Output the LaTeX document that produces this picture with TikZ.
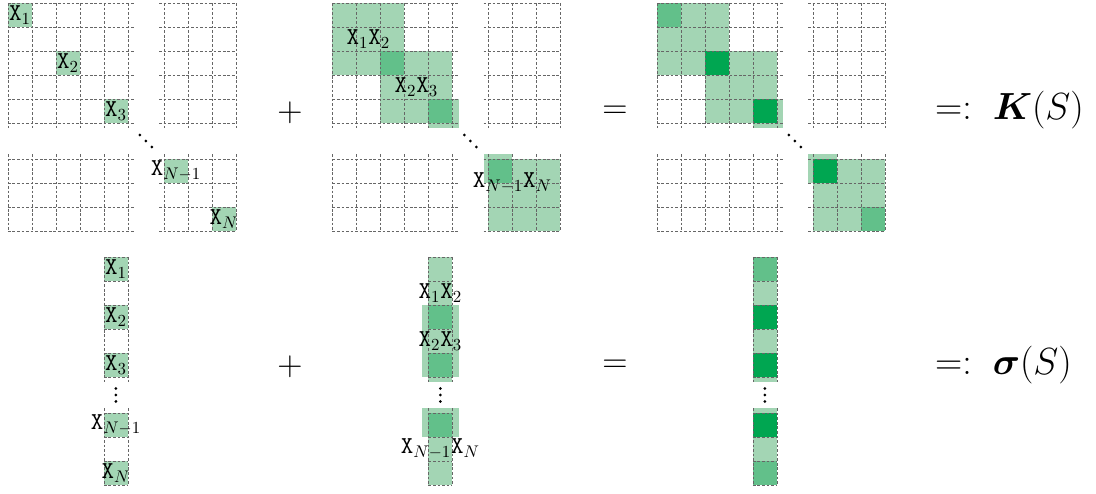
\documentclass[tikz,border=0pt]{standalone}
\usepackage{amsmath,amssymb,bm,graphicx}
\usetikzlibrary{positioning}
\definecolor{lightg}{RGB}{163,213,180}
\definecolor{midg}{RGB}{98,192,138}
\definecolor{darkg}{RGB}{0,166,81}
\tikzset{
  gridln/.style={draw=black!60, dash pattern=on 1.6pt off 1.1pt, line width=0.45pt},
  lite/.style={fill=lightg},
  half/.style={fill=midg},
  full/.style={fill=darkg},
  lab/.style={inner sep=0pt, font=\Large},
  op/.style={inner sep=0pt, font=\huge},
  defn/.style={inner sep=0pt, anchor=west, font=\huge},
  dotr/.style={fill=black},
  matgrid/.pic={
    \foreach \r in {0,...,5} {
      \draw[gridln] (0,-\r) -- (5.27,-\r);
      \draw[gridln] (6.3,-\r) -- (9.5,-\r);
    }
    \foreach \r in {6.5,7.5,8.5,9.5} {
      \draw[gridln] (0,-\r) -- (5.27,-\r);
      \draw[gridln] (6.3,-\r) -- (9.5,-\r);
    }
    \foreach \c in {0,...,5,6.5,7.5,8.5,9.5} {
      \draw[gridln] (\c,0) -- (\c,-5.2);
      \draw[gridln] (\c,-6.3) -- (\c,-9.5);
    }
    \foreach \d in {-0.25,0,0.25}
      \fill[dotr] (5.75+\d,-5.75-\d) circle (0.065);
  },
  vecgrid/.pic={
    \foreach \r in {0,...,5,6.5,7.5,8.5,9.5}
      \draw[gridln] (0,-\r) -- (1,-\r);
    \foreach \c in {0,1} {
      \draw[gridln] (\c,0) -- (\c,-5.2);
      \draw[gridln] (\c,-6.3) -- (\c,-9.5);
    }
    \foreach \d in {-0.27,0,0.27}
      \fill[dotr] (0.5,-5.75-\d) circle (0.065);
  },
}

\begin{document}
\begin{tikzpicture}[x=0.5cm, y=0.5cm]
  \useasboundingbox (0,0) rectangle (45.667,-20.542);

  \begin{scope}[shift={(0.33,-0.125)}]
    \foreach \p in {0,2,4,6.5,8.5} \fill[lite] (\p,-\p) rectangle ++(1,-1);
    \pic {matgrid};
    \node[lab] (lx1) at (0.5,-0.5) {$\mathtt{X}_1$};
    \node[lab] (lx2) at (2.5,-2.5) {$\mathtt{X}_2$};
    \node[lab] (lx3) at (4.5,-4.5) {$\mathtt{X}_3$};
    \node[lab] (lxm) at (7,-7) {$\mathtt{X}_{N-1}$};
    \node[lab] (lxn) at (9,-9) {$\mathtt{X}_N$};
  \end{scope}

  \begin{scope}[shift={(13.85,-0.125)}]
    \fill[lite] (0,0) rectangle (3,-3);
    \fill[lite] (2,-2) rectangle (5,-5);
    \fill[lite] (4,-4) rectangle (5.27,-5.2);
    \fill[lite] (6.3,-6.3) rectangle (7.5,-7.5);
    \fill[lite] (6.5,-6.5) rectangle (9.5,-9.5);
    \foreach \p in {2,4,6.5} \fill[half] (\p,-\p) rectangle ++(1,-1);
    \pic {matgrid};
    \node[lab] (mx12) at (1.5,-1.5) {$\mathtt{X}_1\mathtt{X}_2$};
    \node[lab] (mx23) at (3.5,-3.5) {$\mathtt{X}_2\mathtt{X}_3$};
    \node[lab] (mxn) at (7.5,-7.5) {$\mathtt{X}_{N-1}\mathtt{X}_N$};
  \end{scope}

  \begin{scope}[shift={(27.37,-0.125)}]
    \fill[lite] (0,0) rectangle (3,-3);
    \fill[lite] (2,-2) rectangle (5,-5);
    \fill[lite] (4,-4) rectangle (5.27,-5.2);
    \fill[lite] (6.3,-6.3) rectangle (7.5,-7.5);
    \fill[lite] (6.5,-6.5) rectangle (9.5,-9.5);
    \foreach \p/\s in {0/half,2/full,4/full,6.5/full,8.5/half}
      \fill[\s] (\p,-\p) rectangle ++(1,-1);
    \pic {matgrid};
  \end{scope}

  \begin{scope}[shift={(4.33,-10.708)}]
    \foreach \p in {0,2,4,6.5,8.5} \fill[lite] (0,-\p) rectangle ++(1,-1);
    \pic {vecgrid};
    \node[lab] (vx1) at (0.5,-0.5) {$\mathtt{X}_1$};
    \node[lab] (vx2) at (0.5,-2.5) {$\mathtt{X}_2$};
    \node[lab] (vx3) at (0.5,-4.5) {$\mathtt{X}_3$};
    \node[lab] (vxm) at (0.5,-7) {$\mathtt{X}_{N-1}$};
    \node[lab] (vxn) at (0.5,-9) {$\mathtt{X}_N$};
  \end{scope}

  \begin{scope}[shift={(17.85,-10.708)}]
    \fill[lite] (0,0) rectangle (1,-3);
    \fill[lite] (-0.27,-2) rectangle (1.27,-5);
    \fill[lite] (0,-4) rectangle (1,-5.2);
    \fill[lite] (-0.27,-6.3) rectangle (1.27,-7.5);
    \fill[lite] (0,-6.5) rectangle (1,-9.5);
    \foreach \p in {2,4,6.5} \fill[half] (0,-\p) rectangle ++(1,-1);
    \pic {vecgrid};
    \node[lab] (wx12) at (0.5,-1.5) {$\mathtt{X}_1\mathtt{X}_2$};
    \node[lab] (wx23) at (0.5,-3.5) {$\mathtt{X}_2\mathtt{X}_3$};
    \node[lab] (wxn) at (0.5,-8) {$\mathtt{X}_{N-1}\mathtt{X}_N$};
  \end{scope}

  \begin{scope}[shift={(31.37,-10.708)}]
    \foreach \p/\s in {0/half,1/lite,2/full,3/lite,4/full,6.5/full,7.5/lite,8.5/half}
      \fill[\s] (0,-\p) rectangle ++(1,-1);
    \fill[lite] (0,-5) rectangle (1,-5.2);
    \fill[lite] (0,-6.3) rectangle (1,-6.5);
    \pic {vecgrid};
  \end{scope}

  \node[op] (plusk) at (12.08,-4.71) {$+$};
  \node[op] (eqk) at (25.62,-4.68) {$=$};
  \node[defn] (defk) at (38.95,-4.6) {\scalebox{1.08}{$=:\;\bm{K}(S)$}};
  \node[op] (pluss) at (12.08,-15.29) {$+$};
  \node[op] (eqs) at (25.62,-15.26) {$=$};
  \node[defn] (defs) at (38.95,-15.2) {\scalebox{1.08}{$=:\;\bm{\sigma}(S)$}};
\end{tikzpicture}
\end{document}
